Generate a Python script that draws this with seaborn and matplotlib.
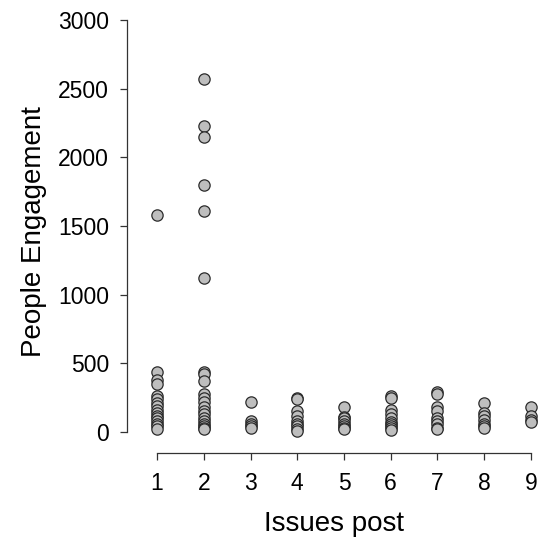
import numpy as np
import pandas as pd
import matplotlib
matplotlib.use('Agg')
import matplotlib.pyplot as plt
import seaborn as sns

sns.set_style('ticks')
plt.rcParams['font.family'] = ['Liberation Sans', 'DejaVu Sans']

FONT_SIZE = 16.5

# engagement values, one list per issue count
issues_1 = [1580, 440, 380, 350, 260, 240, 210, 190, 160, 140, 120, 100, 80, 60, 40, 20]
issues_2 = [2570, 2230, 2150, 1800, 1610, 1120, 440, 420, 370, 280, 250, 220,
            180, 150, 130, 100, 80, 60, 40, 30, 20]
issues_3 = [220, 80, 60, 40, 30]
issues_4 = [250, 240, 150, 120, 80, 60, 40, 20, 10]
issues_5 = [180, 110, 100, 80, 60, 40, 30, 20]
issues_6 = [260, 250, 160, 130, 100, 75, 60, 40, 30, 15]
issues_7 = [290, 280, 180, 150, 100, 80, 60, 30, 20]
issues_8 = [210, 140, 120, 90, 60, 40, 30]
issues_9 = [185, 120, 90, 75]

groups = [issues_1, issues_2, issues_3, issues_4, issues_5,
          issues_6, issues_7, issues_8, issues_9]
x_ticks = list(range(1, 10))
y_ticks = [0, 500, 1000, 1500, 2000, 2500, 3000]

rows = []
for k, vals in zip(x_ticks, groups):
    for v in vals:
        rows.append((k, v))
df = pd.DataFrame(rows, columns=['issues', 'engagement'])

fig = plt.figure(figsize=(5.4, 5.42), dpi=100)
ax = fig.add_axes([127/540, (542-453)/542, (540-127)/540, (453-10)/542])

sns.scatterplot(data=df, x='issues', y='engagement', ax=ax, s=66,
                color='#BEBEBE', edgecolor='#2b2b2b', linewidth=0.9, zorder=3)

ax.set_xlim(0.358, 9.193)
ax.set_ylim(-153, 3073)
ax.set_xticks(x_ticks)
ax.set_yticks(y_ticks)
ax.spines['top'].set_visible(False)
ax.spines['right'].set_visible(False)
ax.spines['left'].set_bounds(0, 3000)
ax.spines['bottom'].set_bounds(1, 9)
for sp in ['left', 'bottom']:
    ax.spines[sp].set_color('#333333')
    ax.spines[sp].set_linewidth(0.9)
ax.tick_params(axis='both', length=5, width=0.9, color='#333333',
               labelsize=FONT_SIZE, labelcolor='black')
ax.tick_params(axis='y', pad=8)
ax.tick_params(axis='x', pad=9)

ax.set_xlabel('Issues post', fontsize=20, labelpad=11, color='black')
ax.set_ylabel('People Engagement', fontsize=20, labelpad=8, color='black')

fig.savefig('out.png', dpi=100)
